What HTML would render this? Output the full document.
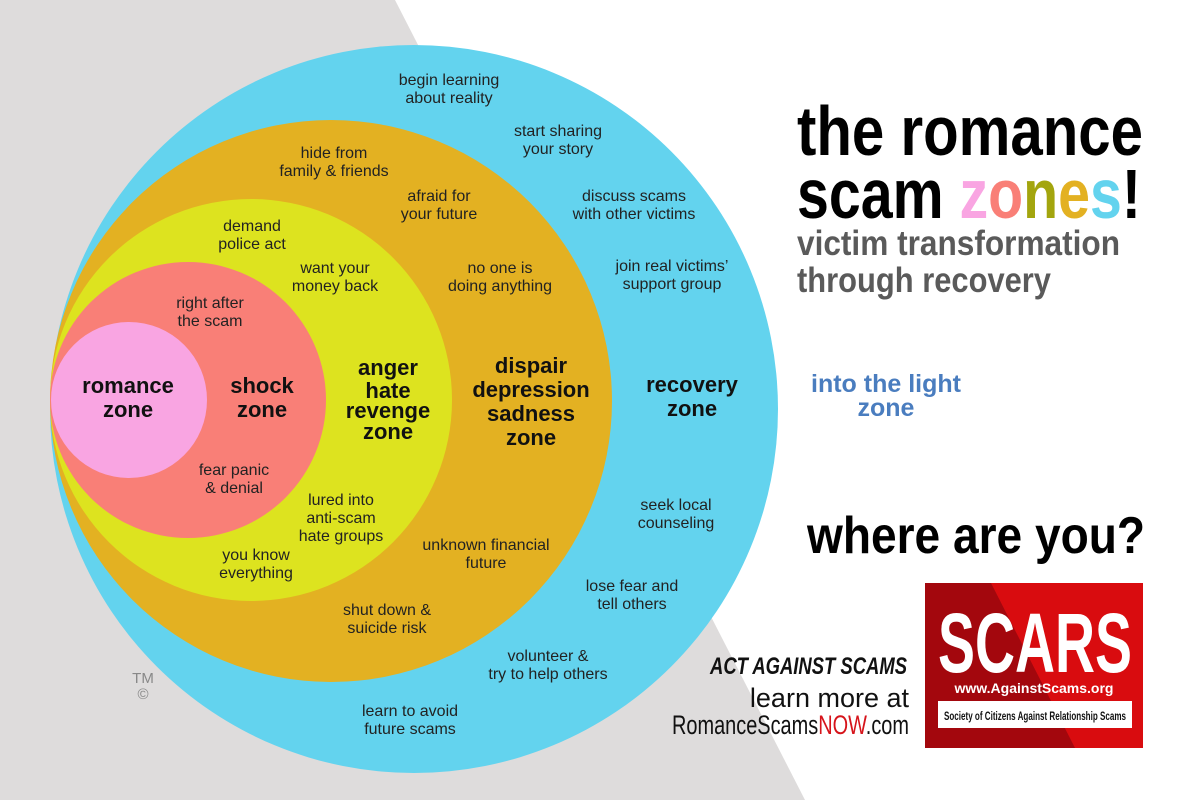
<!DOCTYPE html>
<html><head><meta charset="utf-8"><style>
html,body{margin:0;padding:0;background:#fff}
svg{display:block}
text{font-family:"Liberation Sans",Arial,sans-serif}
</style></head><body>
<svg width="1200" height="800" viewBox="0 0 1200 800" xmlns="http://www.w3.org/2000/svg">
<rect width="1200" height="800" fill="#fff"/>
<polygon points="0,0 395,0 805,800 0,800" fill="#dedcdc"/>
<circle cx="414" cy="409" r="364" fill="#63d3ee"/>
<circle cx="331" cy="401" r="281" fill="#e3b122"/>
<circle cx="251" cy="400" r="201" fill="#dde31f"/>
<circle cx="188" cy="400" r="138" fill="#f97f77"/>
<circle cx="129" cy="400" r="78" fill="#f9a5e2"/>

<g font-size="16" fill="#222" text-anchor="middle">
<text x="449" y="85">begin learning</text><text x="449" y="103">about reality</text>
<text x="558" y="136">start sharing</text><text x="558" y="154">your story</text>
<text x="334" y="158">hide from</text><text x="334" y="176">family &amp; friends</text>
<text x="439" y="201">afraid for</text><text x="439" y="219">your future</text>
<text x="634" y="201">discuss scams</text><text x="634" y="219">with other victims</text>
<text x="252" y="231">demand</text><text x="252" y="249">police act</text>
<text x="335" y="273">want your</text><text x="335" y="291">money back</text>
<text x="500" y="273">no one is</text><text x="500" y="291">doing anything</text>
<text x="672" y="271">join real victims’</text><text x="672" y="289">support group</text>
<text x="210" y="308">right after</text><text x="210" y="326">the scam</text>
<text x="234" y="475">fear panic</text><text x="234" y="493">&amp; denial</text>
<text x="341" y="505">lured into</text><text x="341" y="523">anti-scam</text><text x="341" y="541">hate groups</text>
<text x="676" y="510">seek local</text><text x="676" y="528">counseling</text>
<text x="486" y="550">unknown financial</text><text x="486" y="568">future</text>
<text x="256" y="560">you know</text><text x="256" y="578">everything</text>
<text x="632" y="591">lose fear and</text><text x="632" y="609">tell others</text>
<text x="387" y="615">shut down &amp;</text><text x="387" y="633">suicide risk</text>
<text x="548" y="661">volunteer &amp;</text><text x="548" y="679">try to help others</text>
<text x="410" y="716">learn to avoid</text><text x="410" y="734">future scams</text>
</g>
<g font-size="22" font-weight="bold" fill="#111" text-anchor="middle">
<text x="128" y="393">romance</text><text x="128" y="417">zone</text>
<text x="262" y="393">shock</text><text x="262" y="417">zone</text>
<text x="388" y="375">anger</text><text x="388" y="398">hate</text><text x="388" y="418">revenge</text><text x="388" y="439">zone</text>
<text x="531" y="373">dispair</text><text x="531" y="397">depression</text><text x="531" y="421">sadness</text><text x="531" y="445">zone</text>
<text x="692" y="392">recovery</text><text x="692" y="416">zone</text>
</g>
<g font-size="25" font-weight="bold" fill="#4a7dbf" text-anchor="middle">
<text x="886" y="392">into the light</text><text x="886" y="416">zone</text>
</g>
<g fill="#888" font-size="15" text-anchor="middle"><text x="143" y="683">TM</text><text x="143" y="699">©</text></g>

<g font-weight="bold">
<text x="797" y="155" font-size="70" textLength="346" lengthAdjust="spacingAndGlyphs">the romance</text>
<text x="797" y="218" font-size="70" textLength="344" lengthAdjust="spacingAndGlyphs">scam <tspan fill="#f9a5e2">z</tspan><tspan fill="#f97f77">o</tspan><tspan fill="#a3a50e">n</tspan><tspan fill="#e3b122">e</tspan><tspan fill="#63d3ee">s</tspan>!</text>
<text x="797" y="255" font-size="35" fill="#5a5a5a" textLength="323" lengthAdjust="spacingAndGlyphs">victim transformation</text>
<text x="797" y="292" font-size="35" fill="#5a5a5a" textLength="254" lengthAdjust="spacingAndGlyphs">through recovery</text>
<text x="807" y="553" font-size="52" fill="#000" textLength="338" lengthAdjust="spacingAndGlyphs">where are you?</text>
<text x="710" y="674" font-size="24" fill="#111" textLength="197" lengthAdjust="spacingAndGlyphs" font-style="italic">ACT AGAINST SCAMS</text>
</g>
<text x="909" y="707" font-size="27" text-anchor="end" fill="#111">learn more at</text>
<text x="672" y="734" font-size="27" fill="#111" textLength="237" lengthAdjust="spacingAndGlyphs">RomanceScams<tspan fill="#d6141b">NOW</tspan>.com</text>

<rect x="925" y="583" width="218" height="165" fill="#a3070d"/>
<polygon points="991,583 1143,583 1143,748 1075,748" fill="#d90c0f"/>
<text x="938" y="672" font-size="84" font-weight="bold" fill="#fff" textLength="194" lengthAdjust="spacingAndGlyphs">SCARS</text>
<text x="1034" y="693" font-size="14" font-weight="bold" fill="#fff" text-anchor="middle">www.AgainstScams.org</text>
<rect x="938" y="701" width="194" height="27" fill="#fff"/>
<text x="1035" y="720" font-size="11.5" font-weight="bold" fill="#111" text-anchor="middle" textLength="182" lengthAdjust="spacingAndGlyphs">Society of Citizens Against Relationship Scams</text>
</svg>
</body></html>
